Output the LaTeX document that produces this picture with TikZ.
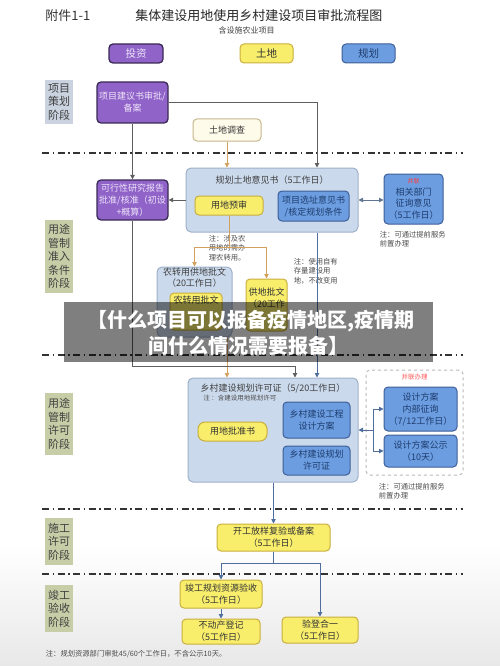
\documentclass[tikz,border=0pt]{standalone}
\usepackage{fontspec}
\setmainfont{Noto Sans CJK SC}
\usetikzlibrary{positioning,arrows.meta,calc}
\definecolor{purfill}{HTML}{9063C9}
\definecolor{purline}{HTML}{3B2A55}
\definecolor{purtext}{HTML}{EEE4F8}
\definecolor{yelfill}{HTML}{F8EE6C}
\definecolor{yelline}{HTML}{C9AE3E}
\definecolor{blufill}{HTML}{6C9DE0}
\definecolor{bluline}{HTML}{3E5F97}
\definecolor{blutext}{HTML}{1E3D6E}
\definecolor{panfill}{HTML}{CBD9EC}
\definecolor{panline}{HTML}{9FB1C9}
\definecolor{crmfill}{HTML}{FFFBEA}
\definecolor{crmline}{HTML}{C6B68C}
\definecolor{stgfill}{HTML}{C7CDA6}
\definecolor{stgblue}{HTML}{CAD3DF}
\definecolor{lngray}{HTML}{5E5E5E}
\definecolor{lnorange}{HTML}{D4A05E}
\definecolor{lnblue}{HTML}{4F6E9E}
\tikzset{
  every picture/.style={line width=0.8pt},
  base/.style={rounded corners=4pt,align=center,inner sep=1pt,font=\fontsize{9}{12}\selectfont,line width=1pt},
  pur/.style={base,draw=purline,fill=purfill,text=purtext,line width=1.3pt},
  yel/.style={base,draw=yelline,fill=yelfill,text=black!80},
  blu/.style={base,draw=bluline,fill=blufill,text=blutext},
  crm/.style={base,draw=crmline,fill=crmfill,text=black!80},
  pan/.style={draw=panline,fill=panfill,rounded corners=5pt,line width=1pt,inner sep=0pt},
  blbox/.style={draw=gray!55,dashed,rounded corners=4pt,line width=1pt,inner sep=0pt},
  stg/.style={fill=stgfill,align=center,inner sep=0pt,minimum width=28pt,text=black!75,font=\fontsize{11}{13.5}\selectfont},
  note/.style={align=left,inner sep=0.5pt,text=black!70,font=\fontsize{7.3}{9.5}\selectfont},
  ttl/.style={inner sep=0pt,align=center,font=\fontsize{9}{11.5}\selectfont,text=black!75},
  sep/.style={line width=1.2pt,black!80,dash pattern=on 7pt off 3.5pt on 1.5pt off 3.5pt},
  conn/.style={-{Triangle[length=4.5pt,width=4.5pt]},line width=0.9pt},
  dconn/.style={{Triangle[length=4.5pt,width=4.5pt]}-{Triangle[length=4.5pt,width=4.5pt]},line width=0.9pt},
}
\begin{document}
\begin{tikzpicture}[x=1pt,y=-1pt]
\useasboundingbox (0,0) rectangle (500,666);
\fill[top color=white,bottom color=black!9] (0,545) rectangle (500,666);
% title
\node[anchor=west,inner sep=0pt,font=\fontsize{13}{13}\selectfont,text=black!80] (fj) at (45,16) {附件1-1};
\node[anchor=west,inner sep=0pt,font=\fontsize{13}{13}\selectfont,text=black!85] (title) at (135,16) {集体建设用地使用乡村建设项目审批流程图};
\node[inner sep=0pt,font=\fontsize{8}{8}\selectfont,text=black!75] (subt) at (246.5,30) {含设施农业项目};
% legend
\node[pur,minimum width=54pt,minimum height=19pt,font=\fontsize{10.5}{10.5}\selectfont] (lgtz) at (136,53.5) {投资};
\node[yel,minimum width=53pt,minimum height=19pt,font=\fontsize{10.5}{10.5}\selectfont] (lgtd) at (266.5,53.5) {土地};
\node[blu,minimum width=53pt,minimum height=19pt,font=\fontsize{10.5}{10.5}\selectfont] (lggh) at (368.5,53.5) {规划};
% stage labels
\node[stg,fill=stgblue,minimum height=44pt] (s1) at (59,102) {项目\\策划\\阶段};
\node[stg,minimum height=73pt] (s2) at (59,256.5) {用途\\管制\\准入\\条件\\阶段};
\node[stg,minimum height=62pt] (s3) at (59,424) {用途\\管制\\许可\\阶段};
\node[stg,minimum height=47pt] (s4) at (59,541.5) {施工\\许可\\阶段};
\node[stg,minimum height=47pt] (s5) at (59,608.5) {竣工\\验收\\阶段};
% stage separators
\foreach \y in {153,355,509,574} {\draw[sep] (42,\y) -- (463,\y);}
% project planning
\node[pur,minimum width=71pt,minimum height=41pt] (xmjy) at (132.5,102.5) {项目建议书审批/\\备案};
\node[crm,minimum width=68pt,minimum height=22pt] (tddc) at (227,130) {土地调查};
% land opinion
\node[pan,minimum width=172pt,minimum height=64pt] (ghyj) at (272,200) {};
\node[ttl] (ghyjt) at ($(ghyj.north)+(0,13)$) {规划土地意见书（5工作日）};
\node[yel,minimum width=68pt,minimum height=19pt] (ydys) at (229,205.5) {用地预审};
\node[blu,minimum width=71pt,minimum height=30pt] (xzyj) at (313.5,206) {项目选址意见书\\/核定规划条件};
\node[blu,minimum width=59pt,minimum height=50pt,font=\fontsize{9}{11.5}\selectfont] (xgbm) at (413.5,199) {{\color{red!75}\fontsize{6}{6}\selectfont 并联}\\相关部门\\征询意见\\（5工作日）};
\node[note,anchor=north west] (nt1) at (379,230) {注：可通过提前服务\\前置办理};
\node[pur,minimum width=71pt,minimum height=40pt] (kxx) at (132.5,200) {可行性研究报告\\批准/核准（初设\\+概算）};
% land supply
\node[pan,minimum width=75pt,minimum height=70pt] (nzy) at (194.5,302) {};
\node[ttl] (nzyt) at ($(nzy.north)+(0,11)$) {农转用供地批文\\（20工作日）};
\node[yel,minimum width=52pt,minimum height=37pt] (nzypw) at (196,311.5) {};
\node[ttl,text=black!80] (nzypwt) at ($(nzypw.north)+(0,8)$) {农转用批文};
\node[yel,minimum width=41pt,minimum height=52pt] (gdpw) at (266.5,305) {};
\node[ttl,anchor=north,text=black!80] (gdpwt) at ($(gdpw.north)+(0,9)$) {供地批文\\（20工作};
\node[note,anchor=north west,fill=white] (nt2) at (208,234) {注：涉及农\\用地的需办\\理农转用。};
\node[note,anchor=north west,fill=white] (nt3) at (293,257) {注：使用自有\\存量建设用\\地，不改变用};
% planning permit
\node[pan,minimum width=170pt,minimum height=104pt] (xcgh) at (273,430) {};
\node[ttl] (xcght) at ($(xcgh.north)+(0,11)$) {乡村建设规划许可证（5/20工作日）};
\node[inner sep=0pt,anchor=west,font=\fontsize{6.5}{6.5}\selectfont,text=black!70] (xcghn) at (203,398) {注\ ：含建设用地规划许可};
\node[yel,rounded corners=7pt,minimum width=69pt,minimum height=19pt] (ydpz) at (232.5,431.5) {用地批准书};
\node[blu,minimum width=67pt,minimum height=36pt] (gcsj) at (316.5,420) {乡村建设工程\\设计方案};
\node[blu,minimum width=67pt,minimum height=29pt] (xcxk) at (316.5,460.5) {乡村建设规划\\许可证};
\node[blbox,minimum width=97pt,minimum height=105pt] (bl) at (414.5,422.5) {};
\node[inner sep=0pt,font=\fontsize{6.5}{6.5}\selectfont,text=red!65] (blt) at ($(bl.north)+(0,8)$) {并联办理};
\node[blu,minimum width=73pt,minimum height=44pt] (nbzx) at (420.5,409) {设计方案\\内部征询\\（7/12工作日）};
\node[blu,minimum width=73pt,minimum height=32pt] (gs) at (420.5,451) {设计方案公示\\（10天）};
\node[note,anchor=north west] (nt4) at (378,482) {注：可通过提前服务\\前置办理};
% construction and acceptance
\node[yel,minimum width=113pt,minimum height=27pt] (kgfy) at (273.5,537.5) {开工放样复验或备案\\（5工作日）};
\node[yel,minimum width=82pt,minimum height=28pt] (jgys) at (221,594) {竣工规划资源验收\\（5工作日）};
\node[yel,minimum width=78pt,minimum height=25pt] (bdc) at (221,631.5) {不动产登记\\（5工作日）};
\node[yel,minimum width=76pt,minimum height=26pt] (ydhy) at (320,630) {验登合一\\（5工作日）};
\node[note,anchor=west] (nt5) at (45,654) {注：规划资源部门审批45/60个工作日，不含公示10天。};
% connectors
\coordinate (gx) at (317,0);
\coordinate (ox) at (227,0);
\draw[conn,lngray] (xmjy.east) -| (ghyj.north -| gx);
\draw[conn,lnorange] (tddc.south) -- (tddc.south |- ghyj.north);
\draw[conn,lngray] (xmjy.south) -- (kxx.north);
\draw[conn,lngray] (ghyj.west) -- (kxx.east);
\draw[dconn,lnblue!60!gray] (ghyj.east) -- (ghyj.east -| xgbm.west);
\draw[lnorange,line width=0.9pt] (ydys.south) -- ++(0,32) coordinate (yj);
\draw[conn,lnorange] (yj) -| (nzy.north);
\draw[conn,lnorange] (yj) -| (gdpw.north);
\draw[conn,lnorange] (nzy.south -| ox) -- (xcgh.north -| ox);
\draw[conn,lngray] (kxx.south) |- ($(xcgh.north)+(22,-11)$) -- ($(xcgh.north)+(22,0)$);
\draw[conn,lnblue] (ghyj.south -| gx) -- (xcgh.north -| gx);
\coordinate (bj) at ($(xcgh.east)+(15,0)$);
\draw[conn,lnblue] (bj) -- (xcgh.east);
\draw[conn,lnblue] (bj) |- (nbzx.west);
\draw[conn,lnblue] (bj) |- (gs.west);
\draw[conn,lnblue] (xcgh.south -| kgfy.north) -- (kgfy.north);
\draw[lnblue,line width=0.9pt] (kgfy.south) -- ++(0,12) coordinate (kj);
\draw[conn,lnblue] (kj) -| (jgys.north);
\draw[conn,lnblue] (kj) -| (ydhy.north);
\draw[conn,lnblue] (jgys.south) -- (bdc.north);
% banner
\fill[black,opacity=0.5] (64,302) rectangle (433,362);
\node[text=white,inner sep=0pt,font=\fontsize{20}{20}\selectfont\bfseries] (bn1) at (251,321) {【什么项目可以报备疫情地区,疫情期};
\node[text=white,inner sep=0pt,font=\fontsize{20}{20}\selectfont\bfseries] (bn2) at (248,346) {间什么情况需要报备】};
\end{tikzpicture}
\end{document}
